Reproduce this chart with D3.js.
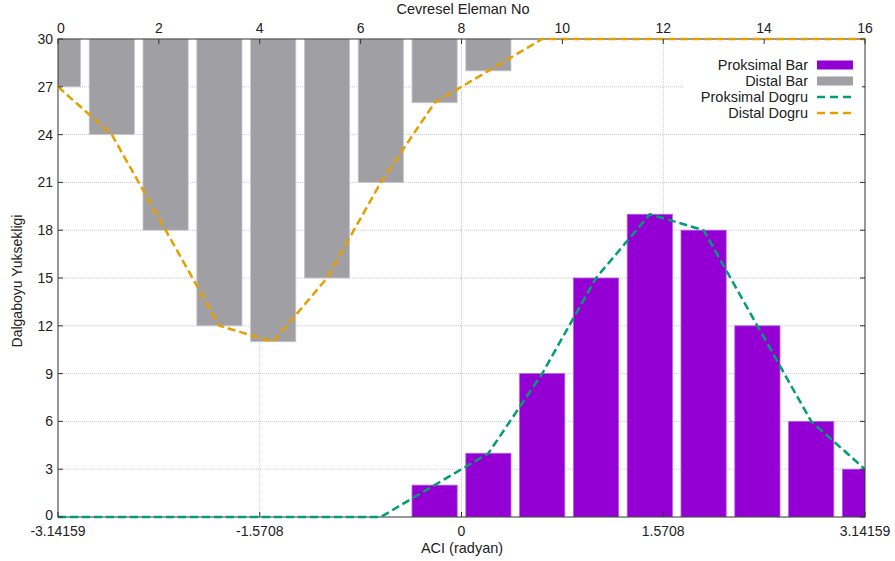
<!DOCTYPE html>
<html>
<head>
<meta charset="utf-8">
<script src="https://cdn.jsdelivr.net/npm/d3@7"></script>
<style>
  body { margin: 0; background: #fff; }
  svg text { font-family: "Liberation Sans", Arial, sans-serif; fill: #222; }
</style>
</head>
<body>
<svg id="chart" width="895" height="561"></svg>
<script>
// element numbers (top axis) and wavelength heights
const elements = [0, 1, 2, 3, 4, 5, 6, 7, 8, 9, 10, 11, 12, 13, 14, 15];
const proksimal = [0, 0, 0, 0, 0, 0, 0, 2, 4, 9, 15, 19, 18, 12, 6, 3];
const distal = [27, 24, 18, 12, 11, 15, 21, 26, 28, 30, 30, 30, 30, 30, 30, 30];
const bottomTicks = [-3.14159, -1.5708, 0, 1.5708, 3.14159];
const topTicks = [0, 2, 4, 6, 8, 10, 12, 14, 16];
const yTicks = [0, 3, 6, 9, 12, 15, 18, 21, 24, 27, 30];

const margin = { top: 39, right: 30, bottom: 44, left: 58 };
const width = 895 - margin.left - margin.right;
const height = 561 - margin.top - margin.bottom;

const svg = d3.select('#chart');
const g = svg.append('g').attr('transform', `translate(${margin.left},${margin.top})`);

const x = d3.scaleLinear().domain([-Math.PI, Math.PI]).range([0, width]);
const xTop = d3.scaleLinear().domain([0, 16]).range([0, width]);
const y = d3.scaleLinear().domain([0, 30]).range([height, 0]);
// element index -> angle
const angle = d3.scaleLinear().domain([0, 15]).range([-Math.PI, Math.PI]);

const step = x(angle(1)) - x(angle(0));
const barW = step * 0.84;

g.append('clipPath').attr('id', 'clip')
  .append('rect').attr('width', width).attr('height', height);

// grid
const gridColor = '#bbb';
g.selectAll('.hgrid')
  .data(yTicks.filter((d) => d > 0 && d < 30))
  .enter()
  .append('line')
  .attr('class', 'hgrid')
  .attr('x1', 0).attr('x2', width)
  .attr('y1', (d) => y(d)).attr('y2', (d) => y(d))
  .attr('stroke', gridColor)
  .attr('stroke-width', 0.8)
  .attr('stroke-dasharray', '1,1');

g.selectAll('.vgrid')
  .data(bottomTicks.slice(1, -1))
  .enter()
  .append('line')
  .attr('class', 'vgrid')
  .attr('x1', (d) => x(d)).attr('x2', (d) => x(d))
  .attr('y1', 0).attr('y2', height)
  .attr('stroke', gridColor)
  .attr('stroke-width', 0.8)
  .attr('stroke-dasharray', '1,1');

const plot = g.append('g').attr('clip-path', 'url(#clip)');

// distal bars hang from the top
plot.selectAll('.distal')
  .data(elements.filter((k) => distal[k] < 30))
  .enter()
  .append('rect')
  .attr('class', 'distal')
  .attr('x', (k) => x(angle(k)) - barW / 2)
  .attr('y', y(30))
  .attr('width', barW)
  .attr('height', (k) => y(distal[k]) - y(30))
  .attr('fill', '#a0a0a4')
  .attr('stroke', '#c8c8cc')
  .attr('stroke-width', 0.8);

// proksimal bars from the bottom
plot.selectAll('.proks')
  .data(elements.filter((k) => proksimal[k] > 0))
  .enter()
  .append('rect')
  .attr('class', 'proks')
  .attr('x', (k) => x(angle(k)) - barW / 2)
  .attr('y', (k) => y(proksimal[k]))
  .attr('width', barW)
  .attr('height', (k) => y(0) - y(proksimal[k]))
  .attr('fill', '#9400d3')
  .attr('stroke', '#b060e8')
  .attr('stroke-width', 0.8);

// border
g.append('rect')
  .attr('width', width).attr('height', height)
  .attr('fill', 'none')
  .attr('stroke', '#333')
  .attr('stroke-width', 1);

const line = (vals) => d3.line()
  .x((k) => x(angle(k)))
  .y((k) => y(vals[k]))(elements);

g.append('path')
  .attr('d', line(proksimal))
  .attr('fill', 'none')
  .attr('stroke', '#009e73')
  .attr('stroke-width', 2.5)
  .attr('stroke-dasharray', '8,4');

g.append('path')
  .attr('d', line(distal))
  .attr('fill', 'none')
  .attr('stroke', '#e69f00')
  .attr('stroke-width', 2.5)
  .attr('stroke-dasharray', '8,4');

// ticks (inward)
const tickLen = 5;
g.selectAll('.ytl')
  .data(yTicks)
  .enter()
  .append('text')
  .attr('x', -5)
  .attr('y', (d) => y(d) - (d === 0 ? 2 : 0))
  .attr('dy', '0.35em')
  .attr('text-anchor', 'end')
  .attr('font-size', 14)
  .text((d) => d);

g.selectAll('.ytick')
  .data(yTicks)
  .enter()
  .append('g')
  .each(function (d) {
    d3.select(this).append('line')
      .attr('x1', 0).attr('x2', tickLen)
      .attr('y1', y(d)).attr('y2', y(d))
      .attr('stroke', '#333');
    d3.select(this).append('line')
      .attr('x1', width - tickLen).attr('x2', width)
      .attr('y1', y(d)).attr('y2', y(d))
      .attr('stroke', '#333');
  });

g.selectAll('.xb')
  .data(bottomTicks)
  .enter()
  .append('text')
  .attr('x', (d) => x(d))
  .attr('y', height + 19)
  .attr('text-anchor', 'middle')
  .attr('font-size', 14)
  .text((d) => d);

g.selectAll('.xbtick')
  .data(bottomTicks)
  .enter()
  .append('line')
  .attr('x1', (d) => x(d)).attr('x2', (d) => x(d))
  .attr('y1', height).attr('y2', height - tickLen)
  .attr('stroke', '#333');

g.selectAll('.xt')
  .data(topTicks)
  .enter()
  .append('text')
  .attr('x', (d) => xTop(d) + (d === 0 ? 3 : 0))
  .attr('y', -6)
  .attr('text-anchor', 'middle')
  .attr('font-size', 14)
  .text((d) => d);

g.selectAll('.xttick')
  .data(topTicks)
  .enter()
  .append('line')
  .attr('x1', (d) => xTop(d)).attr('x2', (d) => xTop(d))
  .attr('y1', 0).attr('y2', tickLen)
  .attr('stroke', '#333');

// axis titles
svg.append('text')
  .attr('x', 463)
  .attr('y', 14)
  .attr('text-anchor', 'middle')
  .attr('font-size', 14.5)
  .text('Cevresel Eleman No');

svg.append('text')
  .attr('x', 462)
  .attr('y', 553)
  .attr('text-anchor', 'middle')
  .attr('font-size', 14.5)
  .text('ACI (radyan)');

svg.append('text')
  .attr('transform', `translate(22,281) rotate(-90)`)
  .attr('text-anchor', 'middle')
  .attr('font-size', 14)
  .text('Dalgaboyu Yuksekligi');

// legend
const legendItems = [
  { label: 'Proksimal Bar', type: 'bar', color: '#9400d3' },
  { label: 'Distal Bar', type: 'bar', color: '#a0a0a4' },
  { label: 'Proksimal Dogru', type: 'line', color: '#009e73' },
  { label: 'Distal Dogru', type: 'line', color: '#e69f00' }
];

const legend = g.append('g').attr('transform', `translate(${width}, 0)`);
legend.append('rect')
  .attr('x', -182).attr('y', 8)
  .attr('width', 179).attr('height', 83)
  .attr('fill', '#fff');

const item = legend.selectAll('.item')
  .data(legendItems)
  .enter()
  .append('g')
  .attr('transform', (d, i) => `translate(0, ${26 + i * 16})`);

item.append('text')
  .attr('x', -57)
  .attr('dy', '0.35em')
  .attr('text-anchor', 'end')
  .attr('font-size', 14.5)
  .text((d) => d.label);

item.filter((d) => d.type === 'bar')
  .append('rect')
  .attr('x', -48).attr('y', -4.5)
  .attr('width', 36).attr('height', 9)
  .attr('fill', (d) => d.color);

item.filter((d) => d.type === 'line')
  .append('line')
  .attr('x1', -48).attr('x2', -12)
  .attr('stroke', (d) => d.color)
  .attr('stroke-width', 2.5)
  .attr('stroke-dasharray', '8,5');
</script>
</body>
</html>
